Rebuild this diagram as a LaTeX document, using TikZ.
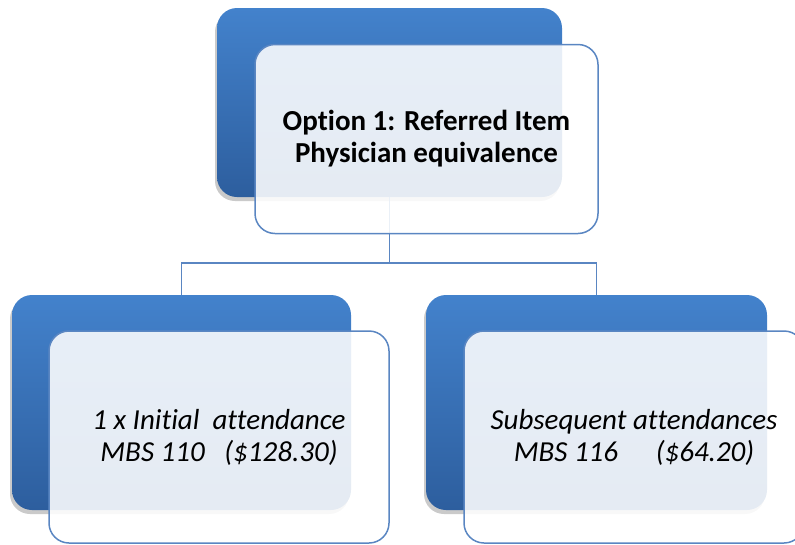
\documentclass[tikz,border=0pt]{standalone}
\usepackage{fontspec}
\setmainfont{Carlito}[Ligatures={NoCommon}]
\usetikzlibrary{shadows}
\definecolor{boxtop}{HTML}{4382CC}
\definecolor{boxbot}{HTML}{2D5E9E}
\definecolor{edge}{HTML}{5A86C2}
\tikzset{
  backbox/.style={rectangle, rounded corners=20pt, top color=boxtop, bottom color=boxbot,
    draw=none, inner sep=0pt,
    drop shadow={shadow xshift=-2pt, shadow yshift=-4pt, opacity=0.35, fill=black!60}},
  frontbox/.style={rectangle, rounded corners=20pt, draw=edge, line width=1.5pt,
    fill=white, fill opacity=0.88, text opacity=1, inner sep=0pt, align=center,
    font=\fontsize{29}{32}\selectfont},
  conn/.style={draw=edge, line width=1.5pt}
}
\begin{document}
\begin{tikzpicture}[x=1pt,y=-1pt]
\useasboundingbox (0,0) rectangle (795,544);
% back boxes
\node[backbox, minimum width=345pt, minimum height=189pt] (tb) at (389.5,102.5) {};
\node[backbox, minimum width=339pt, minimum height=215pt] (lb) at (181.5,402.5) {};
\node[backbox, minimum width=341pt, minimum height=215pt] (rb) at (596.5,402.5) {};
% connectors
\coordinate (hub) at (389.5,263);
\draw[conn] (tb.south) -- (hub) -| (lb.north);
\draw[conn] (hub) -| (rb.north);
% front boxes
\node[frontbox, minimum width=343pt, minimum height=189pt] (tf) at (426.5,139)
  {\textbf{Option 1: Referred Item}\\\textbf{Physician equivalence}};
\node[frontbox, minimum width=340pt, minimum height=212pt] (lf) at (219,437)
  {\textit{1 x Initial\ \ attendance}\\\textit{MBS 110\ \ \ (\$128.30)}};
\node[frontbox, minimum width=340pt, minimum height=212pt] (rf) at (634,437)
  {\textit{Subsequent attendances}\\\textit{MBS 116\hspace{1.3em}(\$64.20)}};
\end{tikzpicture}
\end{document}
